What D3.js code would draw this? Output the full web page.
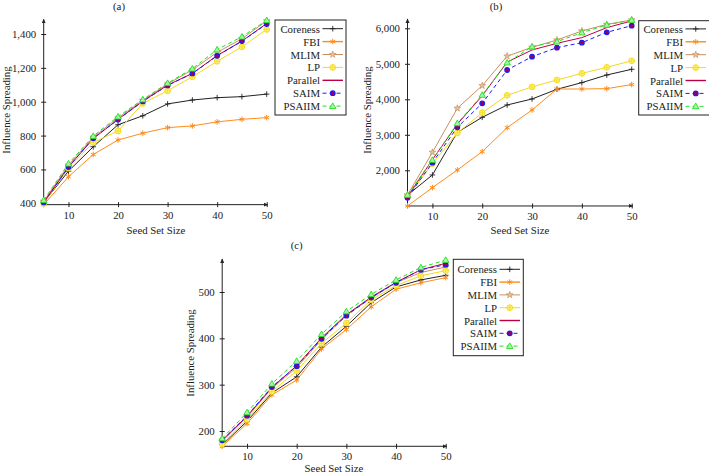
<!DOCTYPE html>
<html>
<head>
<meta charset="utf-8">
<script src="https://cdn.jsdelivr.net/npm/d3@7"></script>
<style>
  html, body { margin: 0; padding: 0; background: #fff; }
  svg { display: block; }
</style>
</head>
<body>
<svg id="chart" width="709" height="473" font-family="Liberation Serif, DejaVu Serif, serif"></svg>
<script>
// ---------- data ----------
const seedSizes = [5, 10, 15, 20, 25, 30, 35, 40, 45, 50];
const xTicks = [10, 20, 30, 40, 50];
const seriesNames = ["Coreness", "FBI", "MLIM", "LP", "Parallel", "SAIM", "PSAIIM"];
const panelTitles = ["(a)", "(b)", "(c)"];

// panel (a)
const aCoreness = [405, 590, 734, 864, 917, 987, 1010, 1024, 1030, 1045];
const aFBI      = [392, 557, 688, 774, 814, 847, 857, 881, 896, 906];
const aMLIM     = [412, 625, 790, 905, 1008, 1105, 1188, 1292, 1372, 1478];
const aLP       = [400, 608, 759, 827, 990, 1065, 1147, 1239, 1324, 1427];
const aParallel = [405, 615, 782, 896, 1003, 1098, 1167, 1273, 1358, 1462];
const aSAIM     = [405, 614, 784, 895, 1002, 1096, 1167, 1271, 1358, 1459];
const aPSAIIM   = [418, 634, 797, 912, 1013, 1110, 1195, 1308, 1384, 1481];
const aYTicks   = [400, 600, 800, 1000, 1200, 1400];

// panel (b)
const bCoreness = [1300, 1869, 3070, 3493, 3840, 4009, 4282, 4470, 4685, 4845];
const bFBI      = [995, 1512, 2009, 2526, 3202, 3700, 4290, 4290, 4300, 4415];
const bMLIM     = [1305, 2507, 3746, 4385, 5215, 5465, 5671, 5925, 6110, 6235];
const bLP       = [1250, 2185, 3050, 3624, 4113, 4350, 4545, 4732, 4901, 5085];
const bParallel = [1260, 2300, 3300, 4100, 5050, 5390, 5577, 5737, 6019, 6207];
const bSAIM     = [1230, 2216, 3211, 3887, 4826, 5202, 5455, 5596, 5887, 6075];
const bPSAIIM   = [1305, 2291, 3324, 4122, 5033, 5484, 5624, 5878, 6094, 6235];
const bYTicks   = [2000, 3000, 4000, 5000, 6000];

// panel (c)
const cCoreness = [170, 221, 282, 317, 381, 426, 477, 511, 526, 536];
const cFBI      = [167, 216, 278, 310, 377, 419, 468, 506, 520, 531];
const cMLIM     = [178, 230, 292, 337, 397, 450, 487, 520, 542, 554];
const cLP       = [172, 225, 285, 330, 389, 433, 483, 514, 535, 546];
const cParallel = [180, 232, 294, 341, 401, 451, 489, 521, 548, 562];
const cSAIM     = [180, 233, 295, 340, 399, 449, 488, 520, 548, 559];
const cPSAIIM   = [184, 240, 302, 351, 409, 458, 495, 526, 553, 569];
const cYTicks   = [200, 300, 400, 500];

// ---------- styles ----------
const styles = {
  Coreness: { color: "#222222", dash: null, mark: "plus" },
  FBI:      { color: "#ff8c1a", dash: null, mark: "asterisk" },
  MLIM:     { color: "#c98f5e", dash: null, mark: "star" },
  LP:       { color: "#f5d81c", dash: null, mark: "oplus" },
  Parallel: { color: "#bf0040", dash: null, mark: null },
  SAIM:     { color: "#1a1aff", dash: "4,3", mark: "dot" },
  PSAIIM:   { color: "#22e022", dash: "4,3", mark: "triangle" }
};

// ---------- layout ----------
const panels = [
  { title: panelTitles[0], titlePos: [119, 6],
    series: [aCoreness, aFBI, aMLIM, aLP, aParallel, aSAIM, aPSAIIM], yTicks: aYTicks,
    xRange: [43.7, 266.7], yRef: [[400, 203.3], [1400, 34]],
    xLabelPos: [156, 229.5], yLabelPos: [6, 110],
    legend: { x: 275, y: 20, w: 71, h: 95, textRight: 320, firstRow: 28.7, rowH: 12.9 } },
  { title: panelTitles[1], titlePos: [496, 6],
    series: [bCoreness, bFBI, bMLIM, bLP, bParallel, bSAIM, bPSAIIM], yTicks: bYTicks,
    xRange: [407.5, 631.7], yRef: [[2000, 170.3], [6000, 28.3]],
    xLabelPos: [520, 229.5], yLabelPos: [367, 110],
    legend: { x: 638.7, y: 20.7, w: 72, h: 94.3, textRight: 683, firstRow: 28.9, rowH: 12.9 } },
  { title: panelTitles[2], titlePos: [296.7, 245],
    series: [cCoreness, cFBI, cMLIM, cLP, cParallel, cSAIM, cPSAIIM], yTicks: cYTicks,
    xRange: [222.2, 445.7], yRef: [[200, 431], [500, 292]],
    xLabelPos: [334, 467.5], yLabelPos: [190, 353],
    legend: { x: 453.3, y: 259.3, w: 70, h: 96.4, textRight: 497, firstRow: 269.3, rowH: 12.8 } }
];

const FONT = "'Liberation Serif', 'Times New Roman', 'DejaVu Serif', serif";
const svg = d3.select("#chart");
const fs = 10.8;

// arrow marker
svg.append("defs").append("marker")
  .attr("id", "arrow").attr("viewBox", "0 0 10 10")
  .attr("refX", 8).attr("refY", 5)
  .attr("markerWidth", 5).attr("markerHeight", 5)
  .attr("orient", "auto-start-reverse")
  .append("path").attr("d", "M0,1 L9,5 L0,9 Z").attr("fill", "#222");

function styleText(sel) {
  return sel.attr("font-size", fs).attr("font-family", FONT)
    .style("font-family", FONT).attr("fill", "#222");
}

function drawMark(g, type, cx, cy, color) {
  const s = 2.8;
  if (type === "plus") {
    g.append("path").attr("d", `M${cx - s},${cy}H${cx + s}M${cx},${cy - s}V${cy + s}`)
      .attr("stroke", color).attr("stroke-width", 0.9).attr("fill", "none");
  } else if (type === "asterisk") {
    let d = "";
    for (let k = 0; k < 3; k++) {
      const a = Math.PI / 2 + k * Math.PI / 3;
      d += `M${cx + s * Math.cos(a)},${cy + s * Math.sin(a)}L${cx - s * Math.cos(a)},${cy - s * Math.sin(a)}`;
    }
    g.append("path").attr("d", d).attr("stroke", color).attr("stroke-width", 1).attr("fill", "none");
  } else if (type === "star") {
    g.append("path").attr("d", d3.symbol(d3.symbolStar, 14)())
      .attr("transform", `translate(${cx},${cy})`)
      .attr("fill", "#e6c3a3").attr("stroke", color).attr("stroke-width", 0.7);
  } else if (type === "oplus") {
    g.append("circle").attr("cx", cx).attr("cy", cy).attr("r", 2.9)
      .attr("fill", "#fff27a").attr("stroke", color).attr("stroke-width", 0.9);
    g.append("path").attr("d", `M${cx - 2.9},${cy}H${cx + 2.9}M${cx},${cy - 2.9}V${cy + 2.9}`)
      .attr("stroke", color).attr("stroke-width", 0.7);
  } else if (type === "dot") {
    g.append("circle").attr("cx", cx).attr("cy", cy).attr("r", 2.3)
      .attr("fill", "#9a0050").attr("stroke", color).attr("stroke-width", 1.2);
  } else if (type === "triangle") {
    g.append("path").attr("d", d3.symbol(d3.symbolTriangle, 18)())
      .attr("transform", `translate(${cx},${cy + 0.5})`)
      .attr("fill", "#a6f5a6").attr("stroke", color).attr("stroke-width", 0.9);
  }
}

panels.forEach(p => {
  const g = svg.append("g");
  const allVals = p.series.flat();
  const yMin = d3.min(allVals), yMax = d3.max(allVals);

  const x = d3.scaleLinear().domain([5, 50]).range(p.xRange);
  const y = d3.scaleLinear().domain([p.yRef[0][0], p.yRef[1][0]]).range([p.yRef[0][1], p.yRef[1][1]]);

  const x0 = x(5), yBase = y(yMin);

  // x axis
  const xAxis = g.append("g").attr("transform", `translate(0,${yBase})`)
    .call(d3.axisBottom(x).tickValues(xTicks).tickSize(2.5).tickPadding(4).tickFormat(d3.format("d")));
  xAxis.attr("font-family", null);
  xAxis.select(".domain").remove();
  xAxis.selectAll(".tick line").attr("y1", -2.5).attr("y2", 2.5).attr("stroke", "#222");
  styleText(xAxis.selectAll(".tick text"));
  g.append("line").attr("x1", x0).attr("x2", x(50) + 1).attr("y1", yBase).attr("y2", yBase)
    .attr("stroke", "#222").attr("stroke-width", 1).attr("marker-end", "url(#arrow)");

  // y axis
  const yAxis = g.append("g").attr("transform", `translate(${x0},0)`)
    .call(d3.axisLeft(y).tickValues(p.yTicks).tickSize(2.5).tickPadding(5).tickFormat(d3.format(",")));
  yAxis.attr("font-family", null);
  yAxis.select(".domain").remove();
  yAxis.selectAll(".tick line").attr("x1", -2.5).attr("x2", 2.5).attr("stroke", "#222");
  styleText(yAxis.selectAll(".tick text"));
  g.append("line").attr("x1", x0).attr("x2", x0).attr("y1", yBase).attr("y2", y(yMax) - 1)
    .attr("stroke", "#222").attr("stroke-width", 1).attr("marker-end", "url(#arrow)");

  // series
  const line = d3.line().x((d, i) => x(seedSizes[i])).y(d => y(d));
  p.series.forEach((vals, si) => {
    const st = styles[seriesNames[si]];
    g.append("path").datum(vals).attr("d", line)
      .attr("fill", "none").attr("stroke", st.color).attr("stroke-width", 1)
      .attr("stroke-dasharray", st.dash);
  });
  p.series.forEach((vals, si) => {
    const st = styles[seriesNames[si]];
    if (!st.mark) return;
    vals.forEach((v, i) => drawMark(g, st.mark, x(seedSizes[i]), y(v), st.color));
  });

  // titles and labels
  styleText(g.append("text").attr("x", p.titlePos[0]).attr("y", p.titlePos[1])
    .attr("text-anchor", "middle").attr("dominant-baseline", "central")).text(p.title);
  styleText(g.append("text").attr("x", p.xLabelPos[0]).attr("y", p.xLabelPos[1])
    .attr("text-anchor", "middle").attr("dominant-baseline", "central")).text("Seed Set Size");
  styleText(g.append("text").attr("transform", `translate(${p.yLabelPos[0]},${p.yLabelPos[1]}) rotate(-90)`)
    .attr("text-anchor", "middle").attr("dominant-baseline", "central")).text("Influence Spreading");

  // legend
  const L = p.legend;
  const lg = g.append("g");
  lg.append("rect").attr("x", L.x).attr("y", L.y).attr("width", L.w).attr("height", L.h)
    .attr("fill", "#fff").attr("stroke", "#222").attr("stroke-width", 1);
  seriesNames.forEach((name, i) => {
    const st = styles[name];
    const ry = L.firstRow + i * L.rowH;
    styleText(lg.append("text").attr("x", L.textRight).attr("y", ry)
      .attr("text-anchor", "end").attr("dominant-baseline", "central")).text(name);
    const lx1 = L.textRight + 2.5, lx2 = L.textRight + 23;
    lg.append("line").attr("x1", lx1).attr("x2", lx2).attr("y1", ry).attr("y2", ry)
      .attr("stroke", st.color).attr("stroke-width", name === "Parallel" || name === "FBI" ? 1.4 : 1)
      .attr("stroke-dasharray", st.dash);
    if (st.mark) drawMark(lg, st.mark, (lx1 + lx2) / 2, ry, st.color);
  });
});
</script>
</body>
</html>
